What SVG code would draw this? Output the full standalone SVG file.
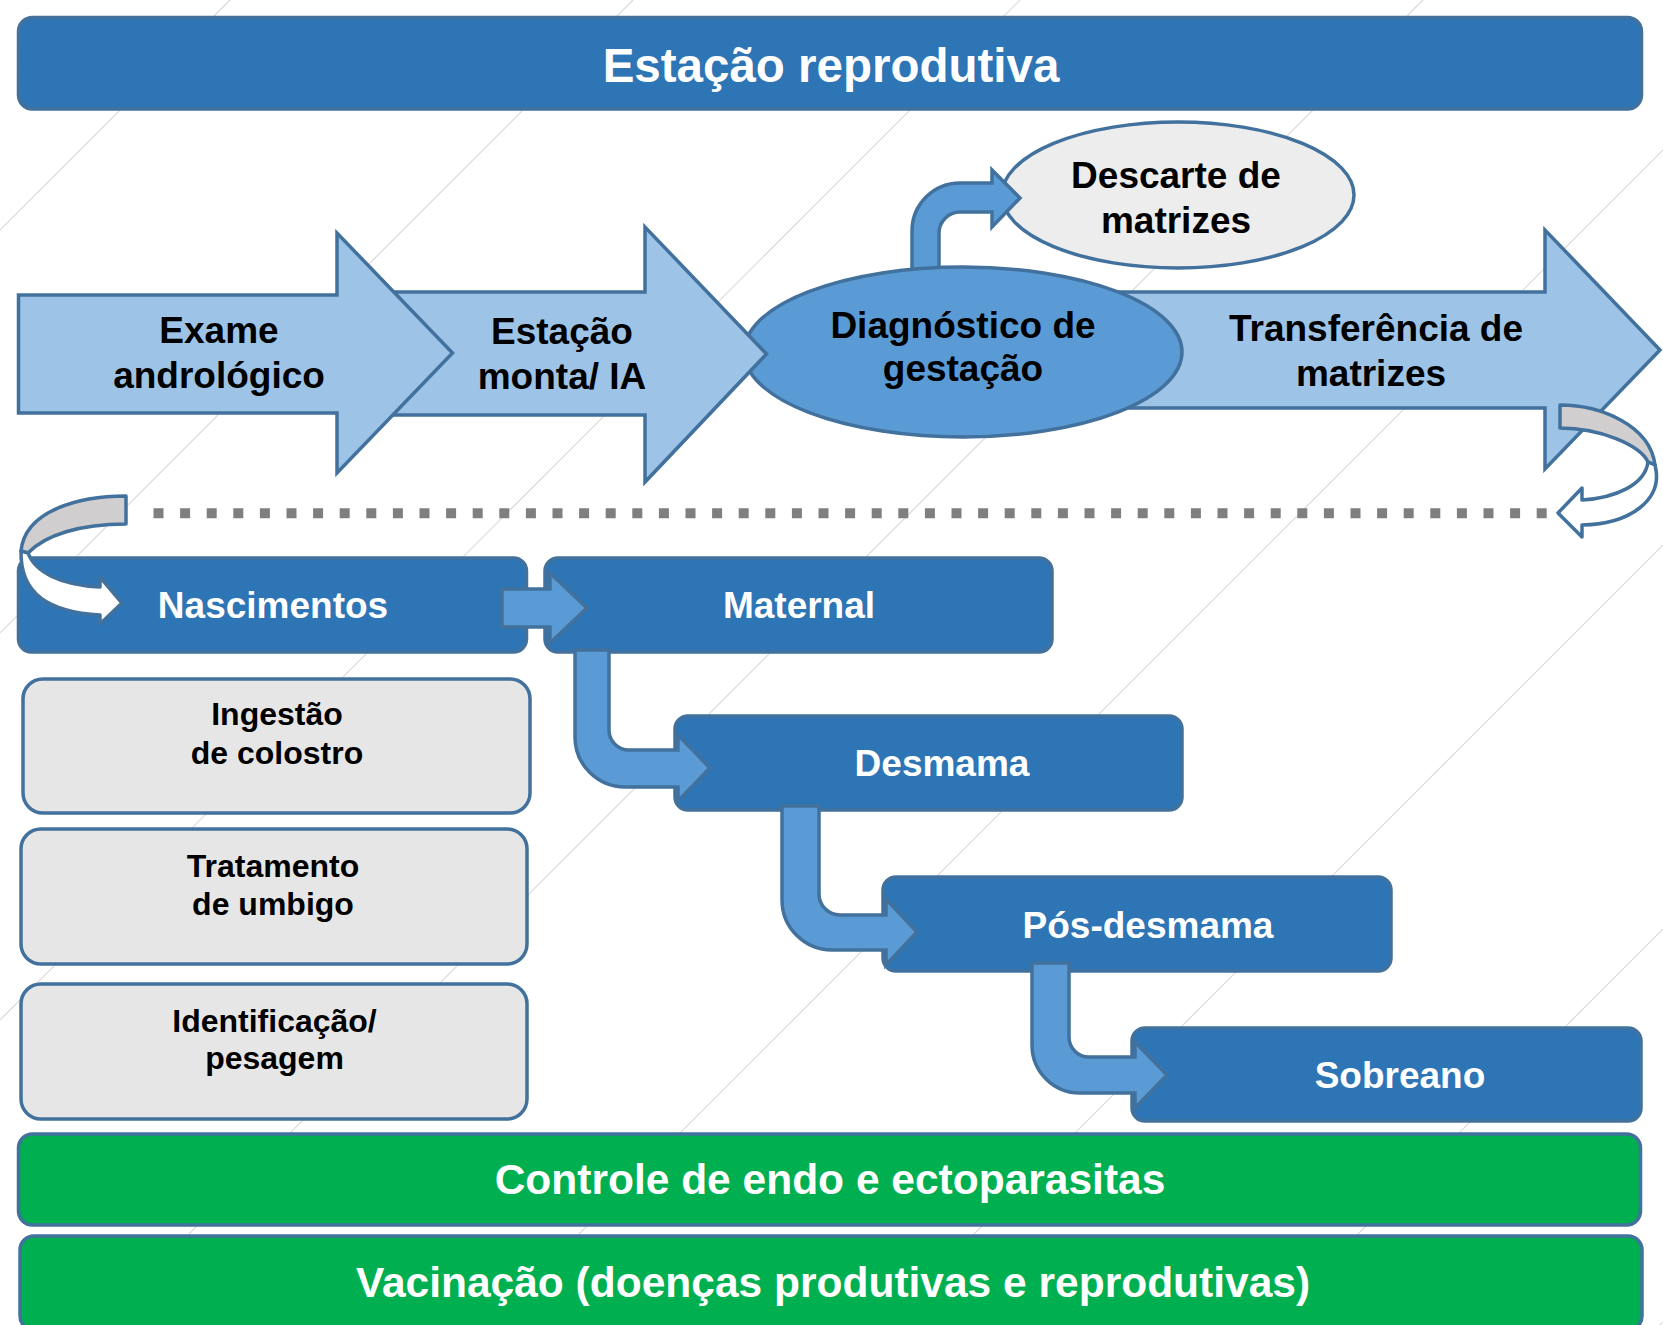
<svg xmlns="http://www.w3.org/2000/svg" width="1663" height="1325" viewBox="0 0 1663 1325">
<style>
text{font-family:"Liberation Sans",Arial,sans-serif;font-weight:bold;text-anchor:middle}
.bg{stroke:#d9d9d9;stroke-width:1.2}
.dk{fill:#2E75B6;stroke:#41719C;stroke-width:3.5}
.lt{fill:#9DC3E6;stroke:#41719C;stroke-width:3.5}
.md{fill:#5B9BD5;stroke:#41719C;stroke-width:3.5}
.gy{fill:#E7E6E6;stroke:#41719C;stroke-width:3.5}
.gr{fill:#00B050;stroke:#41719C;stroke-width:3.5}
.w{fill:#ffffff}
.b{fill:#000000}
.f37{font-size:37px}
.f32{font-size:32px}
</style>
<rect width="1663" height="1325" fill="#ffffff"/>
<g id="background">
<line class="bg" x1="230" y1="0" x2="-1170" y2="1400"/>
<line class="bg" x1="633" y1="0" x2="-767" y2="1400"/>
<line class="bg" x1="1020" y1="0" x2="-380" y2="1400"/>
<line class="bg" x1="1423" y1="0" x2="23" y2="1400"/>
<line class="bg" x1="1813" y1="0" x2="413" y2="1400"/>
<line class="bg" x1="2208" y1="0" x2="808" y2="1400"/>
<line class="bg" x1="2592" y1="0" x2="1192" y2="1400"/>
<line class="bg" x1="2985" y1="0" x2="1585" y2="1400"/>
</g>
<g id="title">
<rect class="dk" x="18.5" y="17.5" width="1623" height="91.5" rx="14"/>
<text class="w" x="831" y="82" font-size="47.5">Estação reprodutiva</text>
</g>
<g id="transferencia">
<path class="lt" d="M1100 292 L1545 292 L1545 230 L1660 350 L1545 469 L1545 408 L1100 408 Z"/>
<text class="b f37" x="1376" y="341">Transferência de</text>
<text class="b f37" x="1371" y="386">matrizes</text>
</g>
<g id="descarte">
<ellipse cx="1178" cy="195" rx="176" ry="73" fill="#EDEDED" stroke="#41719C" stroke-width="3.5"/>
<text class="b f37" x="1176" y="188">Descarte de</text>
<text class="b f37" x="1176" y="233">matrizes</text>
</g>
<g id="connectors">
<path class="md" d="M912 300 L912 231 A48 48 0 0 1 960 183 L992 183 L992 170 L1020 198 L992 227 L992 212 L960 212 A21 21 0 0 0 939 233 L939 300 Z"/>
</g>
<g id="diagnostico">
<ellipse class="md" cx="963" cy="352" rx="219" ry="85"/>
<text class="b f37" x="963" y="338">Diagnóstico de</text>
<text class="b f37" x="963" y="381">gestação</text>
</g>
<g id="estacao-monta">
<path class="lt" d="M360 292 L645 292 L645 227 L766.5 354 L645 482 L645 415 L360 415 Z"/>
<text class="b f37" x="562" y="344">Estação</text>
<text class="b f37" x="562" y="389">monta/ IA</text>
</g>
<g id="exame-andrologico">
<path class="lt" d="M18.5 295 L337 295 L337 233 L452.5 353 L337 473 L337 413 L18.5 413 Z"/>
<text class="b f37" x="219" y="343">Exame</text>
<text class="b f37" x="219" y="388">andrológico</text>
</g>
<g id="loop-connectors">
<line x1="153.5" y1="513.3" x2="1547" y2="513.3" stroke="#7F7F7F" stroke-width="10" stroke-dasharray="10 16.6"/>
<path d="M1560 405 C1600 405 1650 425 1655 465 L1648 462 C1640 445 1600 428 1560 428 Z" fill="#D0CECE" stroke="#41719C" stroke-width="3.5" stroke-linejoin="round"/>
<path d="M1648 462 L1655 465 C1664 500 1630 524 1582 525 L1582 537 L1558 513 L1582 488 L1582 500 C1615 498 1645 485 1648 462 Z" fill="#ffffff" stroke="#41719C" stroke-width="3.5" stroke-linejoin="round"/>
</g>
<g id="nascimentos">
<rect class="dk" x="18.5" y="558" width="508" height="94" rx="13"/>
<text class="w f37" x="273" y="618">Nascimentos</text>
</g>
<g id="maternal">
<rect class="dk" x="545" y="558" width="507" height="94" rx="13"/>
<text class="w f37" x="799" y="618">Maternal</text>
</g>
<g id="desmama">
<rect class="dk" x="675" y="716" width="507" height="94" rx="13"/>
<text class="w f37" x="942" y="776">Desmama</text>
</g>
<g id="pos-desmama">
<rect class="dk" x="883" y="877" width="508" height="94" rx="13"/>
<text class="w f37" x="1148" y="938">Pós-desmama</text>
</g>
<g id="sobreano">
<rect class="dk" x="1132" y="1028" width="509" height="93" rx="13"/>
<text class="w f37" x="1400" y="1088">Sobreano</text>
</g>
<g id="flow-connectors">
<path d="M126 496 C80 496 25 510 21 551 L28 553 C45 535 80 524 126 524 Z" fill="#D0CECE" stroke="#41719C" stroke-width="3.5" stroke-linejoin="round"/>
<path d="M21 551 L28 553 C35 572 60 585 100 587 L100 577 L122 603 L100 624 L100 615 C50 612 20 595 21 551 Z" fill="#ffffff" stroke="#41719C" stroke-width="3.5" stroke-linejoin="round"/>
<path class="md" d="M502 589 L550 589 L550 573 L587 608 L550 643 L550 627 L502 627 Z"/>
<path class="md" d="M575 650 L575 737 A50 50 0 0 0 625 787 L678 787 L678 801 L710 768 L678 735 L678 750 L629 750 A20 20 0 0 1 609 730 L609 650 Z"/>
<path class="md" d="M782 806 L782 900 A50 50 0 0 0 832 950 L886 950 L886 965 L917 932 L886 899 L886 915 L840 915 A21 21 0 0 1 819 894 L819 806 Z"/>
<path class="md" d="M1032 963 L1032 1045 A48 48 0 0 0 1080 1093 L1135 1093 L1135 1108 L1167 1075 L1135 1042 L1135 1057 L1089 1057 A20 20 0 0 1 1069 1037 L1069 963 Z"/>
</g>
<g id="ingestao">
<rect class="gy" x="23" y="679" width="507" height="134" rx="20"/>
<text class="b f32" x="277" y="725">Ingestão</text>
<text class="b f32" x="277" y="764">de colostro</text>
</g>
<g id="tratamento">
<rect class="gy" x="21" y="829" width="506" height="135" rx="20"/>
<text class="b f32" x="273" y="877">Tratamento</text>
<text class="b f32" x="273" y="915">de umbigo</text>
</g>
<g id="identificacao">
<rect class="gy" x="21" y="984" width="506" height="135" rx="20"/>
<text class="b f32" x="274.5" y="1032">Identificação/</text>
<text class="b f32" x="274.5" y="1069">pesagem</text>
</g>
<g id="controle">
<rect class="gr" x="18.5" y="1134" width="1622" height="91" rx="14"/>
<text class="w" x="830" y="1194" font-size="42.5">Controle de endo e ectoparasitas</text>
</g>
<g id="vacinacao">
<rect class="gr" x="20" y="1236" width="1622" height="94" rx="14"/>
<text class="w" x="833" y="1297" font-size="42.5">Vacinação (doenças produtivas e reprodutivas)</text>
</g>
</svg>
